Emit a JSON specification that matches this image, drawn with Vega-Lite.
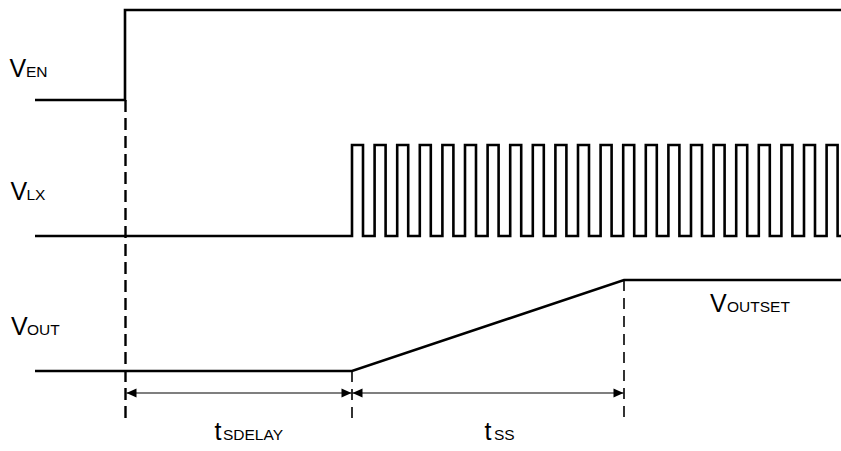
{
  "$schema": "https://vega.github.io/schema/vega-lite/v6.json",
  "width": 841,
  "height": 451,
  "autosize": {"type": "none"},
  "padding": 0,
  "background": "white",
  "config": {"view": {"stroke": null}},
  "datasets": {
    "waves": [
      {"signal": "VEN", "i": 0, "t": 35, "v": 100},
      {"signal": "VEN", "i": 1, "t": 125, "v": 100},
      {"signal": "VEN", "i": 2, "t": 125, "v": 10},
      {"signal": "VEN", "i": 3, "t": 841, "v": 10},
      {"signal": "VOUT", "i": 0, "t": 35, "v": 371},
      {"signal": "VOUT", "i": 1, "t": 352, "v": 371},
      {"signal": "VOUT", "i": 2, "t": 624, "v": 280},
      {"signal": "VOUT", "i": 3, "t": 841, "v": 280},
      {"signal": "VLX", "i": 0, "t": 35, "v": 236},
      {"signal": "VLX", "i": 1, "t": 352, "v": 236},
      {"signal": "VLX", "i": 2, "t": 352, "v": 145},
      {"signal": "VLX", "i": 3, "t": 363, "v": 145},
      {"signal": "VLX", "i": 4, "t": 363, "v": 236},
      {"signal": "VLX", "i": 5, "t": 374.6, "v": 236},
      {"signal": "VLX", "i": 6, "t": 374.6, "v": 145},
      {"signal": "VLX", "i": 7, "t": 385.6, "v": 145},
      {"signal": "VLX", "i": 8, "t": 385.6, "v": 236},
      {"signal": "VLX", "i": 9, "t": 397.2, "v": 236},
      {"signal": "VLX", "i": 10, "t": 397.2, "v": 145},
      {"signal": "VLX", "i": 11, "t": 408.2, "v": 145},
      {"signal": "VLX", "i": 12, "t": 408.2, "v": 236},
      {"signal": "VLX", "i": 13, "t": 419.8, "v": 236},
      {"signal": "VLX", "i": 14, "t": 419.8, "v": 145},
      {"signal": "VLX", "i": 15, "t": 430.8, "v": 145},
      {"signal": "VLX", "i": 16, "t": 430.8, "v": 236},
      {"signal": "VLX", "i": 17, "t": 442.4, "v": 236},
      {"signal": "VLX", "i": 18, "t": 442.4, "v": 145},
      {"signal": "VLX", "i": 19, "t": 453.4, "v": 145},
      {"signal": "VLX", "i": 20, "t": 453.4, "v": 236},
      {"signal": "VLX", "i": 21, "t": 465, "v": 236},
      {"signal": "VLX", "i": 22, "t": 465, "v": 145},
      {"signal": "VLX", "i": 23, "t": 476, "v": 145},
      {"signal": "VLX", "i": 24, "t": 476, "v": 236},
      {"signal": "VLX", "i": 25, "t": 487.6, "v": 236},
      {"signal": "VLX", "i": 26, "t": 487.6, "v": 145},
      {"signal": "VLX", "i": 27, "t": 498.6, "v": 145},
      {"signal": "VLX", "i": 28, "t": 498.6, "v": 236},
      {"signal": "VLX", "i": 29, "t": 510.2, "v": 236},
      {"signal": "VLX", "i": 30, "t": 510.2, "v": 145},
      {"signal": "VLX", "i": 31, "t": 521.2, "v": 145},
      {"signal": "VLX", "i": 32, "t": 521.2, "v": 236},
      {"signal": "VLX", "i": 33, "t": 532.8, "v": 236},
      {"signal": "VLX", "i": 34, "t": 532.8, "v": 145},
      {"signal": "VLX", "i": 35, "t": 543.8, "v": 145},
      {"signal": "VLX", "i": 36, "t": 543.8, "v": 236},
      {"signal": "VLX", "i": 37, "t": 555.4, "v": 236},
      {"signal": "VLX", "i": 38, "t": 555.4, "v": 145},
      {"signal": "VLX", "i": 39, "t": 566.4, "v": 145},
      {"signal": "VLX", "i": 40, "t": 566.4, "v": 236},
      {"signal": "VLX", "i": 41, "t": 578, "v": 236},
      {"signal": "VLX", "i": 42, "t": 578, "v": 145},
      {"signal": "VLX", "i": 43, "t": 589, "v": 145},
      {"signal": "VLX", "i": 44, "t": 589, "v": 236},
      {"signal": "VLX", "i": 45, "t": 600.6, "v": 236},
      {"signal": "VLX", "i": 46, "t": 600.6, "v": 145},
      {"signal": "VLX", "i": 47, "t": 611.6, "v": 145},
      {"signal": "VLX", "i": 48, "t": 611.6, "v": 236},
      {"signal": "VLX", "i": 49, "t": 623.2, "v": 236},
      {"signal": "VLX", "i": 50, "t": 623.2, "v": 145},
      {"signal": "VLX", "i": 51, "t": 634.2, "v": 145},
      {"signal": "VLX", "i": 52, "t": 634.2, "v": 236},
      {"signal": "VLX", "i": 53, "t": 645.8, "v": 236},
      {"signal": "VLX", "i": 54, "t": 645.8, "v": 145},
      {"signal": "VLX", "i": 55, "t": 656.8, "v": 145},
      {"signal": "VLX", "i": 56, "t": 656.8, "v": 236},
      {"signal": "VLX", "i": 57, "t": 668.4, "v": 236},
      {"signal": "VLX", "i": 58, "t": 668.4, "v": 145},
      {"signal": "VLX", "i": 59, "t": 679.4, "v": 145},
      {"signal": "VLX", "i": 60, "t": 679.4, "v": 236},
      {"signal": "VLX", "i": 61, "t": 691, "v": 236},
      {"signal": "VLX", "i": 62, "t": 691, "v": 145},
      {"signal": "VLX", "i": 63, "t": 702, "v": 145},
      {"signal": "VLX", "i": 64, "t": 702, "v": 236},
      {"signal": "VLX", "i": 65, "t": 713.6, "v": 236},
      {"signal": "VLX", "i": 66, "t": 713.6, "v": 145},
      {"signal": "VLX", "i": 67, "t": 724.6, "v": 145},
      {"signal": "VLX", "i": 68, "t": 724.6, "v": 236},
      {"signal": "VLX", "i": 69, "t": 736.2, "v": 236},
      {"signal": "VLX", "i": 70, "t": 736.2, "v": 145},
      {"signal": "VLX", "i": 71, "t": 747.2, "v": 145},
      {"signal": "VLX", "i": 72, "t": 747.2, "v": 236},
      {"signal": "VLX", "i": 73, "t": 758.8, "v": 236},
      {"signal": "VLX", "i": 74, "t": 758.8, "v": 145},
      {"signal": "VLX", "i": 75, "t": 769.8, "v": 145},
      {"signal": "VLX", "i": 76, "t": 769.8, "v": 236},
      {"signal": "VLX", "i": 77, "t": 781.4, "v": 236},
      {"signal": "VLX", "i": 78, "t": 781.4, "v": 145},
      {"signal": "VLX", "i": 79, "t": 792.4, "v": 145},
      {"signal": "VLX", "i": 80, "t": 792.4, "v": 236},
      {"signal": "VLX", "i": 81, "t": 804, "v": 236},
      {"signal": "VLX", "i": 82, "t": 804, "v": 145},
      {"signal": "VLX", "i": 83, "t": 815, "v": 145},
      {"signal": "VLX", "i": 84, "t": 815, "v": 236},
      {"signal": "VLX", "i": 85, "t": 826.6, "v": 236},
      {"signal": "VLX", "i": 86, "t": 826.6, "v": 145},
      {"signal": "VLX", "i": 87, "t": 837.6, "v": 145},
      {"signal": "VLX", "i": 88, "t": 837.6, "v": 236},
      {"signal": "VLX", "i": 89, "t": 841, "v": 236}
    ],
    "markers": [
      {"name": "enable", "t": 125.5, "v1": 100, "v2": 421},
      {"name": "delay_end", "t": 352, "v1": 371, "v2": 418},
      {"name": "ss_end", "t": 624, "v1": 280, "v2": 419}
    ],
    "spans": [
      {"label": "tSDELAY", "from": 126.5, "to": 351.5, "v": 393},
      {"label": "tSS", "from": 352.5, "to": 623.5, "v": 393}
    ],
    "labels": [
      {"main": "V", "sub": "EN", "t": 9.5, "subt": 26, "v": 77},
      {"main": "V", "sub": "LX", "t": 10.5, "subt": 26.5, "v": 200},
      {"main": "V", "sub": "OUT", "t": 11, "subt": 27, "v": 335},
      {"main": "V", "sub": "OUTSET", "t": 710, "subt": 727, "v": 312},
      {"main": "t", "sub": "SDELAY", "t": 214.5, "subt": 223, "v": 440},
      {"main": "t", "sub": "SS", "t": 484.5, "subt": 494, "v": 440}
    ]
  },
  "layer": [
    {
      "data": {"name": "waves"},
      "mark": {"type": "line", "color": "black", "strokeWidth": 2.6, "strokeJoin": "miter", "strokeCap": "butt"},
      "encoding": {
        "x": {"field": "t", "type": "quantitative", "scale": {"domain": [0, 841], "nice": false, "zero": false}, "axis": null},
        "y": {"field": "v", "type": "quantitative", "scale": {"domain": [0, 451], "nice": false, "zero": false, "reverse": true}, "axis": null},
        "detail": {"field": "signal"},
        "order": {"field": "i", "type": "quantitative"}
      }
    },
    {
      "data": {"name": "markers"},
      "transform": [{"filter": "datum.name === 'enable'"}],
      "mark": {"type": "rule", "color": "black", "strokeWidth": 2.4, "strokeDash": [12, 6]},
      "encoding": {
        "x": {"field": "t", "type": "quantitative"},
        "y": {"field": "v1", "type": "quantitative"},
        "y2": {"field": "v2"}
      }
    },
    {
      "data": {"name": "markers"},
      "transform": [{"filter": "datum.name !== 'enable'"}],
      "mark": {"type": "rule", "color": "black", "strokeWidth": 1.6, "strokeDash": [11, 7]},
      "encoding": {
        "x": {"field": "t", "type": "quantitative"},
        "y": {"field": "v1", "type": "quantitative"},
        "y2": {"field": "v2"}
      }
    },
    {
      "data": {"name": "spans"},
      "mark": {"type": "rule", "color": "black", "strokeWidth": 1.2},
      "encoding": {
        "x": {"field": "from", "type": "quantitative"},
        "x2": {"field": "to"},
        "y": {"field": "v", "type": "quantitative"}
      }
    },
    {
      "data": {"name": "spans"},
      "mark": {"type": "point", "filled": true, "color": "black", "opacity": 1, "size": 100, "shape": "M0,0L2,-0.9L2,0.9Z"},
      "encoding": {
        "x": {"field": "from", "type": "quantitative"},
        "y": {"field": "v", "type": "quantitative"}
      }
    },
    {
      "data": {"name": "spans"},
      "mark": {"type": "point", "filled": true, "color": "black", "opacity": 1, "size": 100, "shape": "M0,0L-2,-0.9L-2,0.9Z"},
      "encoding": {
        "x": {"field": "to", "type": "quantitative"},
        "y": {"field": "v", "type": "quantitative"}
      }
    },
    {
      "data": {"name": "labels"},
      "mark": {"type": "text", "font": "Liberation Sans", "fontSize": 25, "align": "left", "baseline": "alphabetic", "color": "black"},
      "encoding": {
        "x": {"field": "t", "type": "quantitative"},
        "y": {"field": "v", "type": "quantitative"},
        "text": {"field": "main"}
      }
    },
    {
      "data": {"name": "labels"},
      "mark": {"type": "text", "font": "Liberation Sans", "fontSize": 15.5, "align": "left", "baseline": "alphabetic", "color": "black"},
      "encoding": {
        "x": {"field": "subt", "type": "quantitative"},
        "y": {"field": "v", "type": "quantitative"},
        "text": {"field": "sub"}
      }
    }
  ]
}
